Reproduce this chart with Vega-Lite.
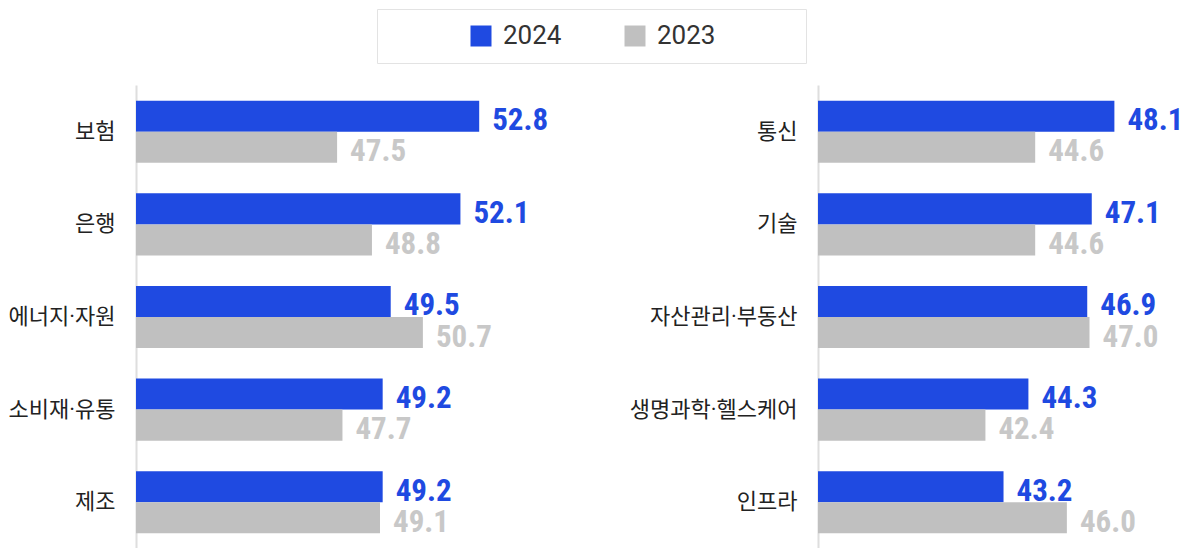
{
  "$schema": "https://vega.github.io/schema/vega-lite/v6.json",
  "padding": {"left": 8, "top": 8, "right": 0, "bottom": 0},
  "background": "#ffffff",
  "config": {
    "view": {"stroke": null},
    "font": "Noto Sans CJK KR",
    "concat": {"spacing": 64},
    "axisY": {
      "title": null,
      "domainColor": "#dedede",
      "domainWidth": 2,
      "ticks": false,
      "grid": false,
      "labelFont": "Roboto, Noto Sans CJK KR",
      "labelFontSize": 22,
      "labelColor": "#222222",
      "labelPadding": 21,
      "labelLimit": 400
    }
  },
  "datasets": {
    "left": [
      {"sector": "보험", "year": "2024", "value": 52.8},
      {"sector": "보험", "year": "2023", "value": 47.5},
      {"sector": "은행", "year": "2024", "value": 52.1},
      {"sector": "은행", "year": "2023", "value": 48.8},
      {"sector": "에너지·자원", "year": "2024", "value": 49.5},
      {"sector": "에너지·자원", "year": "2023", "value": 50.7},
      {"sector": "소비재·유통", "year": "2024", "value": 49.2},
      {"sector": "소비재·유통", "year": "2023", "value": 47.7},
      {"sector": "제조", "year": "2024", "value": 49.2},
      {"sector": "제조", "year": "2023", "value": 49.1}
    ],
    "right": [
      {"sector": "통신", "year": "2024", "value": 48.1},
      {"sector": "통신", "year": "2023", "value": 44.6},
      {"sector": "기술", "year": "2024", "value": 47.1},
      {"sector": "기술", "year": "2023", "value": 44.6},
      {"sector": "자산관리·부동산", "year": "2024", "value": 46.9},
      {"sector": "자산관리·부동산", "year": "2023", "value": 47.0},
      {"sector": "생명과학·헬스케어", "year": "2024", "value": 44.3},
      {"sector": "생명과학·헬스케어", "year": "2023", "value": 42.4},
      {"sector": "인프라", "year": "2024", "value": 43.2},
      {"sector": "인프라", "year": "2023", "value": 46.0}
    ]
  },
  "hconcat": [
    {
      "data": {"name": "left"},
      "width": 429,
      "height": 464,
      "encoding": {
        "y": {
          "field": "sector", "type": "nominal",
          "sort": ["보험", "은행", "에너지·자원", "소비재·유통", "제조"],
          "scale": {"paddingInner": 0.33, "paddingOuter": 0.17}
        },
        "yOffset": {"field": "year", "type": "nominal", "sort": ["2024", "2023"]},
        "x": {"field": "value", "type": "quantitative", "scale": {"domain": [40, 56], "zero": false, "nice": false}, "axis": null}
      },
      "layer": [
        {
          "mark": {"type": "bar", "clip": true},
          "encoding": {
            "color": {
              "field": "year", "type": "nominal",
              "scale": {"domain": ["2024", "2023"], "range": ["#1f4ae1", "#c0c0c0"]},
              "legend": {
                "orient": "none", "legendX": 241, "legendY": -76, "direction": "horizontal",
                "title": "\u00a0", "titleOrient": "left", "titlePadding": 77, "titleFontSize": 26, "titleFont": "Roboto",
                "symbolType": "square", "symbolSize": 441, "symbolStrokeWidth": 0, "symbolOpacity": 1,
                "labelFont": "Roboto", "labelFontSize": 26, "labelColor": "#333333", "labelOffset": 9, "labelLimit": 300,
                "columnPadding": 60,
                "labelExpr": "datum.label == '2023' ? '2023\u2800\u2800\u2800\u2800' : datum.label",
                "padding": 14, "fillColor": "#ffffff", "strokeColor": "#e3e3e3"
              }
            }
          }
        },
        {
          "mark": {"type": "text", "align": "left", "baseline": "alphabetic", "dx": 13, "dy": 14, "font": "Noto Sans ExtraCondensed, Noto Sans Condensed, Roboto Condensed, Liberation Sans Narrow, DejaVu Sans Condensed", "fontWeight": "bold", "fontSize": 31},
          "encoding": {
            "text": {"field": "value", "type": "quantitative", "format": ".1f"},
            "color": {"condition": {"test": "datum.year == '2024'", "value": "#1f4ae1"}, "value": "#c8c8c8"}
          }
        }
      ]
    },
    {
      "data": {"name": "right"},
      "width": 362,
      "height": 464,
      "encoding": {
        "y": {
          "field": "sector", "type": "nominal",
          "sort": ["통신", "기술", "자산관리·부동산", "생명과학·헬스케어", "인프라"],
          "scale": {"paddingInner": 0.33, "paddingOuter": 0.17}
        },
        "yOffset": {"field": "year", "type": "nominal", "sort": ["2024", "2023"]},
        "x": {"field": "value", "type": "quantitative", "scale": {"domain": [35, 51], "zero": false, "nice": false}, "axis": null}
      },
      "layer": [
        {
          "mark": {"type": "bar", "clip": true},
          "encoding": {
            "color": {
              "field": "year", "type": "nominal",
              "scale": {"domain": ["2024", "2023"], "range": ["#1f4ae1", "#c0c0c0"]},
              "legend": {
                "orient": "none", "legendX": 241, "legendY": -76, "direction": "horizontal",
                "title": "\u00a0", "titleOrient": "left", "titlePadding": 77, "titleFontSize": 26, "titleFont": "Roboto",
                "symbolType": "square", "symbolSize": 441, "symbolStrokeWidth": 0, "symbolOpacity": 1,
                "labelFont": "Roboto", "labelFontSize": 26, "labelColor": "#333333", "labelOffset": 9, "labelLimit": 300,
                "columnPadding": 60,
                "labelExpr": "datum.label == '2023' ? '2023\u2800\u2800\u2800\u2800' : datum.label",
                "padding": 14, "fillColor": "#ffffff", "strokeColor": "#e3e3e3"
              }
            }
          }
        },
        {
          "mark": {"type": "text", "align": "left", "baseline": "alphabetic", "dx": 13, "dy": 14, "font": "Noto Sans ExtraCondensed, Noto Sans Condensed, Roboto Condensed, Liberation Sans Narrow, DejaVu Sans Condensed", "fontWeight": "bold", "fontSize": 31},
          "encoding": {
            "text": {"field": "value", "type": "quantitative", "format": ".1f"},
            "color": {"condition": {"test": "datum.year == '2024'", "value": "#1f4ae1"}, "value": "#c8c8c8"}
          }
        }
      ]
    }
  ]
}
